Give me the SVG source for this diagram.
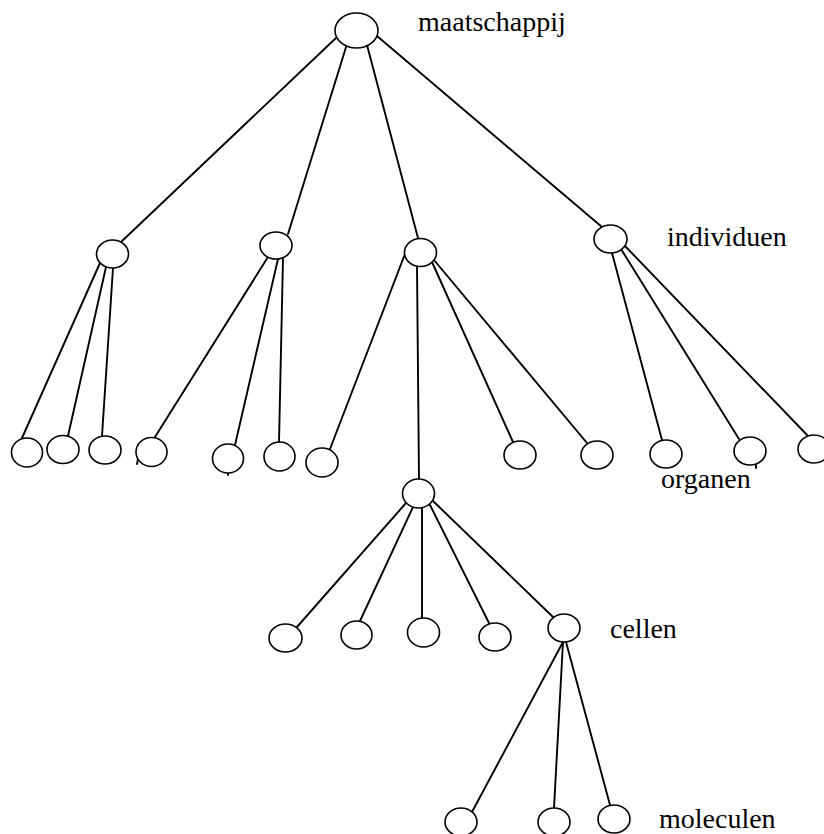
<svg xmlns="http://www.w3.org/2000/svg" width="824" height="834" viewBox="0 0 824 834">
<style>
.n{fill:#fff;stroke:#000;stroke-width:1.6}
.c line{stroke:#000;stroke-width:1.9;stroke-linecap:round}
.t{font-family:"Liberation Serif","Times New Roman",serif;font-size:28px;fill:#000}
</style>
<rect width="824" height="834" fill="#fff"/>
<g id="connectors" class="c">
<line x1="336" y1="38" x2="121" y2="242"/>
<line x1="347" y1="44" x2="288" y2="234"/>
<line x1="367" y1="45" x2="418" y2="238"/>
<line x1="377" y1="36" x2="602" y2="227"/>
<line x1="100" y1="263" x2="22" y2="438"/>
<line x1="106" y1="267" x2="68" y2="436"/>
<line x1="113" y1="268" x2="102" y2="436"/>
<line x1="268" y1="257" x2="155" y2="437"/>
<line x1="278" y1="259" x2="235" y2="445"/>
<line x1="283" y1="258" x2="279" y2="442"/>
<line x1="405" y1="254" x2="330" y2="449"/>
<line x1="417" y1="266" x2="419" y2="479"/>
<line x1="432" y1="262" x2="513" y2="442"/>
<line x1="434" y1="260" x2="587" y2="443"/>
<line x1="612" y1="253" x2="662" y2="440"/>
<line x1="621" y1="249" x2="739" y2="439"/>
<line x1="625" y1="246" x2="808" y2="436"/>
<line x1="406" y1="503" x2="297" y2="627"/>
<line x1="413" y1="507" x2="360" y2="621"/>
<line x1="422" y1="508" x2="422" y2="618"/>
<line x1="430" y1="505" x2="489" y2="623"/>
<line x1="433" y1="501" x2="553" y2="617"/>
<line x1="563" y1="642" x2="472" y2="812"/>
<line x1="563" y1="642" x2="554" y2="808"/>
<line x1="566" y1="642" x2="610" y2="805"/>
<line x1="138" y1="459" x2="137" y2="464"/>
<line x1="228" y1="472" x2="228" y2="475"/>
<line x1="756" y1="465" x2="756" y2="468"/>
</g>
<g id="root"><ellipse class="n" cx="356.5" cy="30.5" rx="21.5" ry="17.5"/></g>
<g id="indA"><ellipse class="n" cx="112.5" cy="254" rx="16" ry="14"/></g>
<g id="indB"><ellipse class="n" cx="276" cy="245.5" rx="16" ry="13.5"/></g>
<g id="indC"><ellipse class="n" cx="420.5" cy="252.5" rx="16" ry="14"/></g>
<g id="indD"><ellipse class="n" cx="610.5" cy="239" rx="16.5" ry="14"/></g>
<g id="orgA1"><ellipse class="n" cx="27" cy="452.5" rx="15.5" ry="14.5"/></g>
<g id="orgA2"><ellipse class="n" cx="63" cy="449.5" rx="16" ry="14"/></g>
<g id="orgA3"><ellipse class="n" cx="105" cy="450" rx="16" ry="14"/></g>
<g id="orgB1"><ellipse class="n" cx="151.5" cy="452" rx="15.5" ry="14.5"/></g>
<g id="orgB2"><ellipse class="n" cx="228" cy="458.5" rx="15.5" ry="14.5"/></g>
<g id="orgB3"><ellipse class="n" cx="279.5" cy="456.5" rx="15.5" ry="14.5"/></g>
<g id="orgC1"><ellipse class="n" cx="322" cy="462.5" rx="16" ry="14.5"/></g>
<g id="orgC2"><ellipse class="n" cx="418.5" cy="493.5" rx="16" ry="14.5"/></g>
<g id="orgC3"><ellipse class="n" cx="520" cy="455" rx="16" ry="14"/></g>
<g id="orgC4"><ellipse class="n" cx="597" cy="455" rx="16" ry="14"/></g>
<g id="orgD1"><ellipse class="n" cx="666" cy="454" rx="16" ry="14"/></g>
<g id="orgD2"><ellipse class="n" cx="750" cy="451" rx="16" ry="14"/></g>
<g id="orgD3"><ellipse class="n" cx="814" cy="449" rx="16" ry="14"/></g>
<g id="cel1"><ellipse class="n" cx="285.5" cy="638" rx="16.5" ry="14"/></g>
<g id="cel2"><ellipse class="n" cx="356.5" cy="635" rx="15.5" ry="14"/></g>
<g id="cel3"><ellipse class="n" cx="423.5" cy="632.5" rx="16" ry="14.5"/></g>
<g id="cel4"><ellipse class="n" cx="495" cy="637" rx="16" ry="14"/></g>
<g id="cel5"><ellipse class="n" cx="564" cy="628" rx="16" ry="14"/></g>
<g id="mol1"><ellipse class="n" cx="461" cy="822" rx="16" ry="14"/></g>
<g id="mol2"><ellipse class="n" cx="554" cy="822" rx="16" ry="14"/></g>
<g id="mol3"><ellipse class="n" cx="614" cy="819" rx="16" ry="14"/></g>
<g id="labels">
<text class="t" x="418" y="31">maatschappij</text>
<text class="t" x="667" y="246">individuen</text>
<text class="t" x="661" y="488">organen</text>
<text class="t" x="610" y="638">cellen</text>
<text class="t" x="659" y="828">moleculen</text>
</g>
</svg>
